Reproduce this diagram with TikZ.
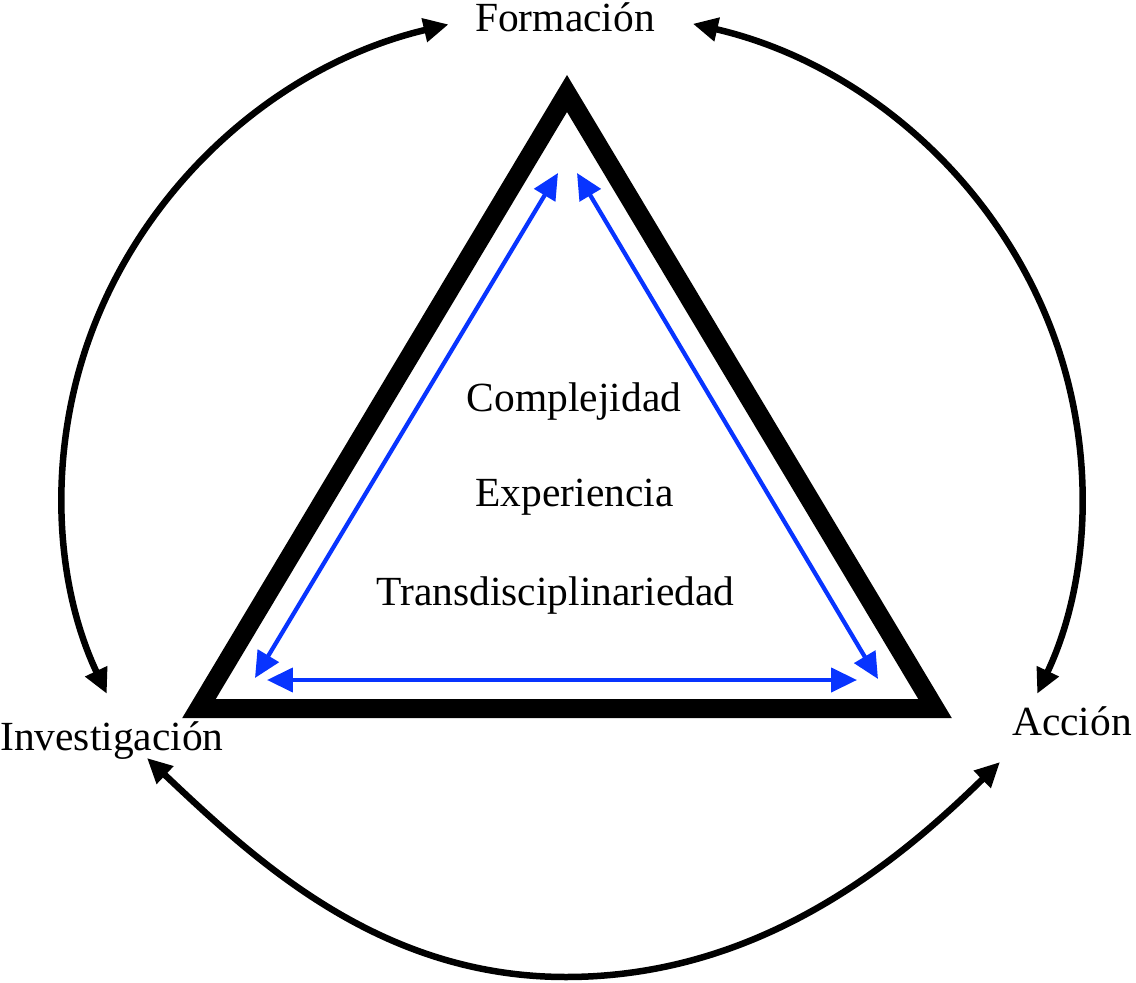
\documentclass[tikz,border=0pt]{standalone}
\usepackage{fontspec}
\setmainfont{Liberation Serif}
\usetikzlibrary{arrows.meta}
\definecolor{bluearrow}{RGB}{8,52,255}
\begin{document}
\begin{tikzpicture}[x=0.02cm,y=-0.02cm,
  lbl/.style={anchor=base, inner sep=0pt, font=\fontsize{23.6}{28}\selectfont},
  cyc/.style={line width=0.13cm, {Triangle[length=0.5cm,width=0.46cm]}-{Triangle[length=0.5cm,width=0.46cm]}},
  innerarr/.style={bluearrow, line width=0.085cm, {Triangle[length=0.52cm,width=0.48cm]}-{Triangle[length=0.52cm,width=0.48cm]}},
  tri/.style={line width=0.38cm, line join=miter, miter limit=10}]
\useasboundingbox (0,0) rectangle (1136,983);
\fill[white] (0,0) rectangle (1136,983);

% labels
\node[lbl] (form) at (565,32) {Formación};
\node[lbl] (inv) at (112,750) {Investigación};
\node[lbl] (acc) at (1072,735) {Acción};
\node[lbl] (comp) at (574,411) {Complejidad};
\node[lbl] (exp) at (574.5,506) {Experiencia};
\node[lbl] (trans) at (555.5,605) {Transdisciplinariedad};

% triangle
\coordinate (tA) at (567,93.5);
\coordinate (tB) at (199,708.5);
\coordinate (tC) at (935,708.5);
\draw[tri] (tA) -- (tB) -- (tC) -- cycle;

% blue double arrows
\coordinate (bL1) at (558,173);
\coordinate (bL2) at (255,678);
\coordinate (bR1) at (577,173);
\coordinate (bR2) at (878,679);
\coordinate (bB1) at (267,680);
\coordinate (bB2) at (857,680);
\draw[innerarr] (bL1) -- (bL2);
\draw[innerarr] (bR1) -- (bR2);
\draw[innerarr] (bB1) -- (bB2);

% outer cycle arcs
\coordinate (fL) at (448.6,24.4);
\coordinate (fR) at (692.8,23.8);
\coordinate (iB) at (147,758);
\coordinate (aB) at (1000,762);
\coordinate (bot) at (566,977);
\draw[cyc] (fL) arc[start angle=256, end angle=155.8, x radius=510, y radius=485];
\draw[cyc] (fR) arc[start angle=-76.3, end angle=24.2, x radius=510, y radius=485];
\draw[cyc] (iB) .. controls (256,861) and (380,977) .. (bot)
               .. controls (756,977) and (893,867) .. (aB);
\end{tikzpicture}
\end{document}
